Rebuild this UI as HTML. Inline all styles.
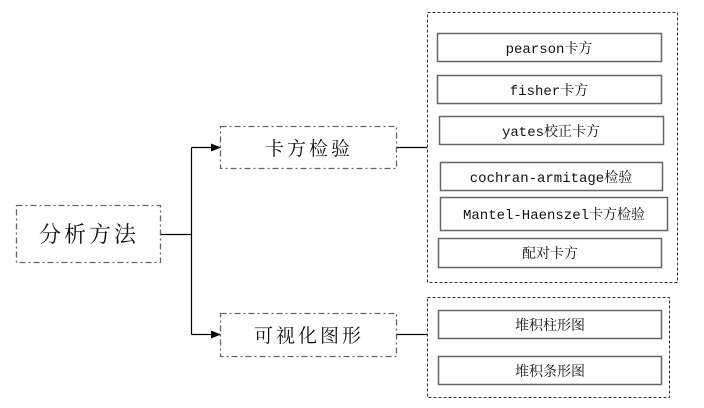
<!DOCTYPE html>
<html><head><meta charset="utf-8"><style>
html,body{margin:0;padding:0;background:#fff;}
svg{display:block;}
text{font-family:"Liberation Mono","Noto Serif CJK SC",monospace;fill:#111;}
.c{font-family:"Noto Serif CJK SC","Liberation Serif",serif;}
</style></head><body>
<svg width="704" height="408" viewBox="0 0 704 408" xmlns="http://www.w3.org/2000/svg">
<defs><marker id="a" markerWidth="10" markerHeight="8" refX="9" refY="4" orient="auto" markerUnits="userSpaceOnUse"><path d="M0,0 L10,4 L0,8 z" fill="#000"/></marker></defs>
<g fill="none" stroke="#666" stroke-width="1.3" stroke-dasharray="6,3,2,3">
<rect x="16.5" y="205.5" width="144" height="57"/>
<rect x="220.5" y="126.5" width="176" height="42"/>
<rect x="220.5" y="313.5" width="176" height="43"/>
</g>
<g fill="none" stroke="#333" stroke-width="1" stroke-dasharray="3,2">
<rect x="427.5" y="12.5" width="250" height="270"/>
<rect x="427.5" y="297.5" width="242" height="100"/>
</g>
<g fill="none" stroke="#000" stroke-width="1.2">
<path d="M161,234.5 H191.5 M191.5,147.5 V334.5"/>
<path d="M191.5,147.5 H220" marker-end="url(#a)"/>
<path d="M191.5,334.5 H220" marker-end="url(#a)"/>
<path d="M397,147.5 H427 M397,334.5 H427"/>
</g>
<g fill="#fff" stroke="#666" stroke-width="1.5">
<rect x="437.5" y="33.5" width="224" height="28"/>
<rect x="437.5" y="75.5" width="224" height="28"/>
<rect x="439.5" y="116.5" width="224" height="28"/>
<rect x="440.5" y="162.5" width="222" height="28"/>
<rect x="440.5" y="197.5" width="227" height="33"/>
<rect x="438.5" y="238.5" width="223" height="29"/>
<rect x="438.5" y="310.5" width="223" height="28"/>
<rect x="438.5" y="356.5" width="223" height="28"/>
</g>
<g text-anchor="middle">
<text class="c" x="89" y="242" font-size="22" letter-spacing="3">分析方法</text>
<text class="c" x="309" y="155" font-size="19" letter-spacing="3">卡方检验</text>
<text class="c" x="309" y="342" font-size="19" letter-spacing="3">可视化图形</text>
<g font-size="14">
<text x="549" y="53">pearson卡方</text>
<text x="549" y="95">fisher卡方</text>
<text x="551" y="136">yates校正卡方</text>
<text x="551" y="182">cochran-armitage检验</text>
<text x="554" y="219">Mantel-Haenszel卡方检验</text>
<text x="550" y="258">配对卡方</text>
<text x="550" y="330">堆积柱形图</text>
<text x="550" y="376">堆积条形图</text>
</g>
</g>
</svg>
</body></html>
